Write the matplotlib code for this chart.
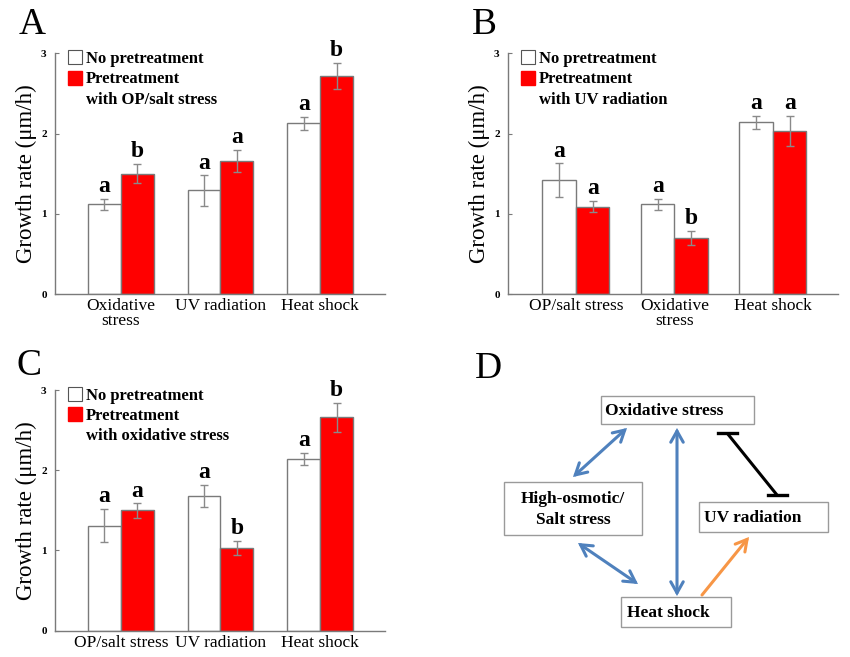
import matplotlib
matplotlib.use("Agg")
import matplotlib.pyplot as plt
from matplotlib.patches import Rectangle, FancyArrowPatch, Patch
import numpy as np

plt.rcParams['font.family'] = ['Liberation Serif', 'DejaVu Serif']

# ---------------- data ----------------
a_categories = ["Oxidative\nstress", "UV radiation", "Heat shock"]
a_none = [1.12, 1.29, 2.13]
a_none_err = [0.07, 0.19, 0.08]
a_pre = [1.50, 1.66, 2.72]
a_pre_err = [0.12, 0.14, 0.16]
a_none_sig = ["a", "a", "a"]
a_pre_sig = ["b", "a", "b"]
a_legend = ["Pretreatment", "with OP/salt stress"]

b_categories = ["OP/salt stress", "Oxidative\nstress", "Heat shock"]
b_none = [1.42, 1.12, 2.14]
b_none_err = [0.21, 0.07, 0.08]
b_pre = [1.09, 0.70, 2.03]
b_pre_err = [0.07, 0.09, 0.19]
b_none_sig = ["a", "a", "a"]
b_pre_sig = ["a", "b", "a"]
b_legend = ["Pretreatment", "with UV radiation"]

c_categories = ["OP/salt stress", "UV radiation", "Heat shock"]
c_none = [1.31, 1.68, 2.14]
c_none_err = [0.21, 0.14, 0.08]
c_pre = [1.50, 1.03, 2.66]
c_pre_err = [0.09, 0.09, 0.18]
c_none_sig = ["a", "a", "a"]
c_pre_sig = ["a", "b", "b"]
c_legend = ["Pretreatment", "with oxidative stress"]

y_ticks = [0, 1, 2, 3]
y_label = "Growth rate (\u03bcm/h)"
no_pre_label = "No pretreatment"

RED = "#ff0000"
GRAY = "#7a7a7a"

W, H = 850, 657
fig = plt.figure(figsize=(W / 100, H / 100), dpi=100)


def px_axes(x0, y0, x1, y1):
    return fig.add_axes([x0 / W, 1 - y1 / H, (x1 - x0) / W, (y1 - y0) / H])


def bar_panel(ax, cats, none, none_err, pre, pre_err, s_none, s_pre, leg2, xlim, width):
    x = np.arange(len(cats))
    ax.bar(x - width / 2, none, width, color="white", edgecolor=GRAY, linewidth=1.0, zorder=2)
    ax.bar(x + width / 2, pre, width, color=RED, edgecolor=GRAY, linewidth=1.0, zorder=2)
    ax.errorbar(x - width / 2, none, yerr=none_err, fmt="none", ecolor="#8a8a8a",
                elinewidth=1.0, capsize=3, capthick=1.0, zorder=3)
    ax.errorbar(x + width / 2, pre, yerr=pre_err, fmt="none", ecolor="#8a8a8a",
                elinewidth=1.0, capsize=3, capthick=1.0, zorder=3)
    for xi, v, e, s in zip(x - width / 2, none, none_err, s_none):
        ax.text(xi, v + e + 0.02, s, ha="center", va="bottom", fontsize=17, fontweight="bold")
    for xi, v, e, s in zip(x + width / 2, pre, pre_err, s_pre):
        ax.text(xi, v + e + 0.02, s, ha="center", va="bottom", fontsize=17, fontweight="bold")
    ax.set_xlim(*xlim)
    ax.set_ylim(0, 3)
    ax.set_xticks(x)
    ax.set_xticklabels(cats, fontsize=12.5, linespacing=0.9)
    ax.set_yticks(y_ticks)
    ax.set_yticklabels([str(t) for t in y_ticks], fontsize=8, fontweight="bold")
    ax.tick_params(axis="x", length=0, pad=3)
    ax.tick_params(axis="y", direction="in", length=3, width=0.8, color=GRAY, pad=6)
    for sp in ("top", "right"):
        ax.spines[sp].set_visible(False)
    for sp in ("left", "bottom"):
        ax.spines[sp].set_color(GRAY)
        ax.spines[sp].set_linewidth(1.0)
    ax.set_ylabel(y_label, fontsize=16.5, labelpad=3)
    h1 = Patch(facecolor="white", edgecolor="#555555", linewidth=0.8)
    h2 = Patch(facecolor=RED, edgecolor=RED)
    h3 = Patch(facecolor="none", edgecolor="none")
    ax.legend([h1, h2, h3], [no_pre_label] + leg2, loc="upper left",
              bbox_to_anchor=(0.02, 1.04), frameon=False,
              prop={"size": 12, "weight": "bold"}, handlelength=0.85,
              handleheight=0.9, handletextpad=0.2, labelspacing=0.22, borderaxespad=0.0)


axA = px_axes(55, 53.3, 385, 294)
bar_panel(axA, a_categories, a_none, a_none_err, a_pre, a_pre_err, a_none_sig, a_pre_sig,
          a_legend, (-0.66, 2.65), 0.33)
axB = px_axes(508, 53.3, 838, 294)
bar_panel(axB, b_categories, b_none, b_none_err, b_pre, b_pre_err, b_none_sig, b_pre_sig,
          b_legend, (-0.69, 2.66), 0.34)
axC = px_axes(55, 390, 385, 630.7)
bar_panel(axC, c_categories, c_none, c_none_err, c_pre, c_pre_err, c_none_sig, c_pre_sig,
          c_legend, (-0.66, 2.65), 0.33)

# panel letters
for lab, (lx, ly) in {"A": (19, 25), "B": (472, 25), "C": (17, 366), "D": (475, 369)}.items():
    fig.text(lx / W, 1 - ly / H, lab, fontsize=27, ha="left", va="center")

# ---------------- panel D: diagram ----------------
axD = fig.add_axes([0, 0, 1, 1], zorder=-1)
axD.set_xlim(0, W)
axD.set_ylim(H, 0)
axD.axis("off")

boxes = {
    "Oxidative stress": (601, 396, 754, 424, "left", 605),
    "High-osmotic/\nSalt stress": (504, 482, 642, 535, "center", 573),
    "UV radiation": (699, 502, 828, 532, "left", 704),
    "Heat shock": (621, 597, 731, 627, "left", 627),
}
for txt, (x0, y0, x1, y1, ha, tx) in boxes.items():
    axD.add_patch(Rectangle((x0, y0), x1 - x0, y1 - y0, facecolor="white",
                            edgecolor="#9a9a9a", linewidth=1.0))
    axD.text(tx, (y0 + y1) / 2 + 1, txt, ha=ha, va="center", fontsize=12.5,
             fontweight="bold", linespacing=1.45)

BLUE = "#4f81bd"
ORANGE = "#f79646"
arrows = [
    ((627, 428), (573, 477), "<->", BLUE),
    ((677, 428), (677, 596), "<->", BLUE),
    ((578, 543), (638, 584), "<->", BLUE),
    ((702, 595), (749, 537), "->", ORANGE),
]
for (p0, p1, style, col) in arrows:
    axD.add_patch(FancyArrowPatch(p0, p1, arrowstyle=style + ",head_length=8,head_width=4.5",
                                  color=col, linewidth=2.2, shrinkA=0, shrinkB=0,
                                  capstyle="round", joinstyle="miter"))
# inhibition line with T bars
axD.plot([727, 777], [433, 495], color="black", linewidth=2.2, solid_capstyle="butt")
axD.plot([718, 737], [433, 433], color="black", linewidth=2.4)
axD.plot([768, 787], [495, 495], color="black", linewidth=2.4)

fig.savefig("out.png", dpi=100)
